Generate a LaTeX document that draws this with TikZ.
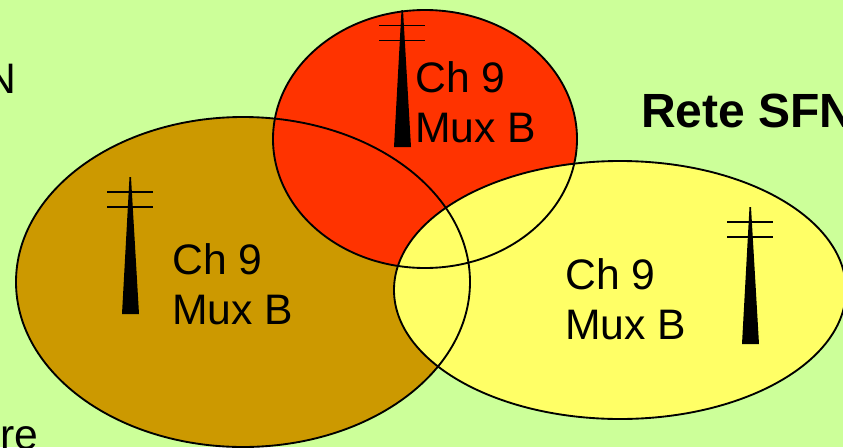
\documentclass[tikz,border=0pt]{standalone}
\usepackage{fontspec}
\setmainfont{Liberation Sans}
\definecolor{sfnback}{HTML}{CCFF99}
\definecolor{sfnbrown}{HTML}{CC9900}
\definecolor{sfnred}{HTML}{FF3300}
\definecolor{sfnyellow}{HTML}{FFFF66}
\tikzset{
  cella/.style = {line width = 1.4pt, black},
  bar/.style = {line width = 1.4pt, black},
  muxlabel/.style = {anchor = west, inner sep = 0, align = left, font = \fontsize{32}{37.5}\selectfont},
  cutlabel/.style = {anchor = base west, inner sep = 0, font = \fontsize{32}{37.5}\selectfont}
}
\begin{document}
\begin{tikzpicture}[x = 0.75pt, y = -0.75pt]

\useasboundingbox (0,0) rectangle (843,447);
\fill[sfnback] (0,0) rectangle (843,447);

\fill[sfnbrown] (243,282) ellipse (227 and 165);
\fill[sfnred] (425,139) ellipse (152 and 129);
\fill[sfnyellow] (620,290) ellipse (226 and 129);

\draw[cella] (243,282) ellipse (227 and 165);
\draw[cella] (425,139) ellipse (152 and 129);
\draw[cella] (620,290) ellipse (226 and 129);

\fill[black] (129.5,177) -- (131,177) -- (139,314) -- (122,314) -- cycle;
\draw[bar] (107,192) to (153,192);
\draw[bar] (107,207) to (153,207);

\fill[black] (401.5,10) -- (403,10) -- (411,147) -- (394,147) -- cycle;
\draw[bar] (379,25.5) to (425,25.5);
\draw[bar] (379,40.5) to (425,40.5);

\fill[black] (749.5,207) -- (751,207) -- (759,344) -- (742,344) -- cycle;
\draw[bar] (727,222) to (773,222);
\draw[bar] (727,237) to (773,237);

\node[muxlabel] (labelbrown) at (172,284) {Ch 9\\Mux B};
\node[muxlabel] (labelred) at (415,102) {Ch 9\\Mux B};
\node[muxlabel] (labelyellow) at (565,299.5) {Ch 9\\Mux B};

\node[anchor = base west, inner sep = 0, font = \fontsize{36}{40}\selectfont\bfseries] (title) at (641,127.5) {Rete SFN};
\node[cutlabel, anchor = base east] (cutn) at (17,93) {N};
\node[cutlabel] (cutre) at (0,449) {re};

\end{tikzpicture}
\end{document}
